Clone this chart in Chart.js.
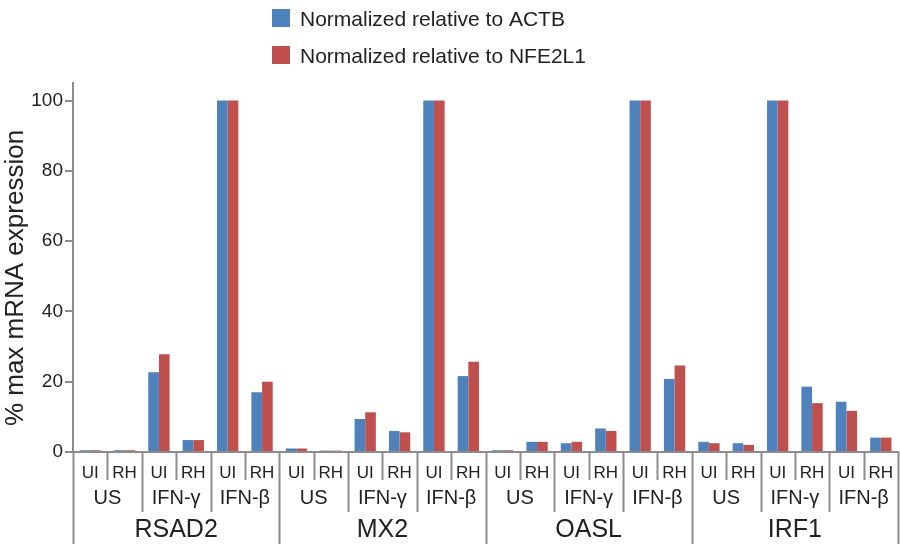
<!DOCTYPE html>
<html>
<head>
<meta charset="utf-8">
<style>
  html, body { margin: 0; padding: 0; background: #fff; }
  #wrap { width: 900px; height: 544px; position: relative; }
</style>
<script src="https://cdn.jsdelivr.net/npm/chart.js@4.4.1/dist/chart.umd.min.js"></script>
</head>
<body>
<div id="wrap"><canvas id="chart" width="900" height="544"></canvas></div>
<script>
const genes = ['RSAD2', 'MX2', 'OASL', 'IRF1'];
const treatments = ['US', 'IFN-γ', 'IFN-β'];
const infections = ['UI', 'RH'];
const seriesNames = ['Normalized relative to ACTB', 'Normalized relative to NFE2L1'];

// order: gene -> treatment -> infection
const actbValues = [
    0.5, 0.5, 22.7, 3.4, 100, 17.0,
    1.0, 0.4, 9.4, 6.0, 100, 21.6,
    0.5, 2.9, 2.5, 6.7, 100, 20.8,
    2.9, 2.5, 100, 18.6, 14.3, 4.1
];
const nfe2l1Values = [
    0.5, 0.5, 27.8, 3.4, 100, 20.0,
    1.0, 0.4, 11.3, 5.6, 100, 25.7,
    0.5, 2.9, 2.9, 6.0, 100, 24.6,
    2.5, 2.0, 100, 13.9, 11.7, 4.1
];
const yTicks = [0, 20, 40, 60, 80, 100];

const fontFamily = '"Liberation Sans", Arial, sans-serif';
const axisGray = '#8c8c8c';
const textColor = '#222';

const labels = [];
genes.forEach(() => treatments.forEach(() => infections.forEach(inf => labels.push(inf))));

const groupPlugin = {
    id: 'groupPlugin',
    afterDraw(chart) {
        const ctx = chart.ctx;
        const x = chart.scales.x;
        const area = chart.chartArea;
        const base = area.bottom;
        const n = labels.length;
        const perGene = treatments.length * infections.length;

        const edge = i => {
            if (i === 0) return area.left;
            if (i === n) return area.right;
            return (x.getPixelForValue(i - 1) + x.getPixelForValue(i)) / 2;
        };

        ctx.save();
        ctx.strokeStyle = axisGray;
        ctx.lineWidth = 2;
        for (let i = 0; i <= n; i++) {
            let len;
            if (i % perGene === 0) len = 544 - base;
            else if (i % infections.length === 0) len = 60;
            else len = 28;
            const px = Math.round(edge(i)) + 0.5;
            ctx.beginPath();
            ctx.moveTo(px, base);
            ctx.lineTo(px, base + len);
            ctx.stroke();
        }

        ctx.fillStyle = textColor;
        ctx.textAlign = 'center';
        ctx.textBaseline = 'middle';
        ctx.font = '20px ' + fontFamily;
        for (let g = 0; g < genes.length; g++) {
            for (let t = 0; t < treatments.length; t++) {
                const s = g * perGene + t * infections.length;
                const cx = (edge(s) + edge(s + infections.length)) / 2;
                ctx.fillText(treatments[t], cx, base + 46);
            }
        }
        ctx.font = '25px ' + fontFamily;
        genes.forEach((gene, g) => {
            const cx = (edge(g * perGene) + edge((g + 1) * perGene)) / 2;
            ctx.fillText(gene, cx, base + 78);
        });

        // y title
        ctx.save();
        ctx.translate(23, 278);
        ctx.rotate(-Math.PI / 2);
        ctx.textBaseline = 'alphabetic';
        ctx.font = '26px ' + fontFamily;
        ctx.fillText('% max mRNA expression', 0, 0);
        ctx.restore();

        // legend
        ctx.textAlign = 'left';
        ctx.font = '21px ' + fontFamily;
        chart.data.datasets.forEach((ds, i) => {
            const ly = 9 + i * 37;
            ctx.fillStyle = ds.backgroundColor;
            ctx.fillRect(272, ly, 18, 18);
            ctx.fillStyle = textColor;
            ctx.fillText(ds.label, 300, ly + 11);
        });
        ctx.restore();
    }
};

new Chart(document.getElementById('chart').getContext('2d'), {
    type: 'bar',
    data: {
        labels: labels,
        datasets: [{
            label: seriesNames[0],
            data: actbValues,
            backgroundColor: '#4F81BD'
        }, {
            label: seriesNames[1],
            data: nfe2l1Values,
            backgroundColor: '#C0504D'
        }]
    },
    options: {
        responsive: false,
        animation: false,
        layout: { padding: { top: 83, right: 2, left: 0, bottom: 0 } },
        categoryPercentage: 0.62,
        barPercentage: 1.0,
        plugins: {
            legend: { display: false },
            tooltip: { enabled: false }
        },
        scales: {
            x: {
                grid: { display: false },
                border: { color: axisGray, width: 2 },
                ticks: {
                    color: textColor,
                    font: { family: fontFamily, size: 17 },
                    padding: 3,
                    maxRotation: 0,
                    autoSkip: false
                },
                afterFit: scale => { scale.height = 92; }
            },
            y: {
                min: 0,
                max: 105,
                grid: {
                    display: true,
                    drawOnChartArea: false,
                    drawTicks: true,
                    tickLength: 8,
                    color: axisGray,
                    lineWidth: 2
                },
                border: { color: axisGray, width: 2 },
                ticks: {
                    stepSize: 20,
                    includeBounds: false,
                    color: textColor,
                    font: { family: fontFamily, size: 19 },
                    padding: 2
                },
                afterBuildTicks: scale => {
                    scale.ticks = yTicks.map(v => ({ value: v }));
                },
                afterFit: scale => { scale.width = 73; }
            }
        }
    },
    plugins: [groupPlugin]
});
</script>
</body>
</html>
